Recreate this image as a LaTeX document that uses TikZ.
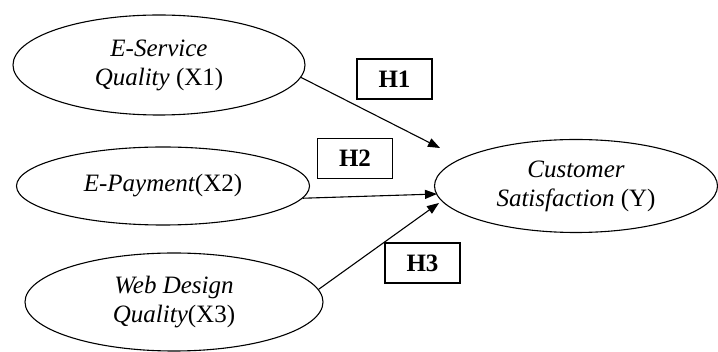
\documentclass[tikz,border=0pt]{standalone}
\usepackage{fontspec}
\setmainfont{Liberation Serif}
\usetikzlibrary{shapes.geometric,arrows.meta}
\begin{document}
\begin{tikzpicture}[x=1pt,y=-1pt,
  var/.style={draw,ellipse,line width=1.1pt,inner sep=0pt,align=center,
    font=\fontsize{25}{29}\selectfont},
  hyp/.style={draw,line width=1.1pt,minimum width=75pt,minimum height=40pt,
    inner sep=0pt,font=\fontsize{25}{28}\selectfont\bfseries},
  link/.style={line width=1.1pt,-{Triangle[length=12pt,width=9pt]}}]
\useasboundingbox (0,0) rectangle (718,352);
\node[var,minimum width=292pt,minimum height=100pt] (x1) at (159,65)
  {\itshape E-Service\\\itshape Quality \upshape(X1)};
\node[var,minimum width=293pt,minimum height=78pt] (x2) at (163,186)
  {\itshape E-Payment\upshape(X2)};
\node[var,minimum width=298pt,minimum height=98pt] (x3) at (174,302)
  {\itshape Web Design\\\itshape Quality\upshape(X3)};
\node[var,minimum width=283pt,minimum height=93pt] (y) at (576,186)
  {\itshape Customer\\\itshape Satisfaction \upshape(Y)};
\node[hyp] (h1) at (394.5,79) {H1};
\node[hyp] (h2) at (355,158.5) {H2};
\node[hyp] (h3) at (422.5,263) {H3};
\coordinate (t1) at (440,148);
\coordinate (t2) at (437,194);
\coordinate (t3) at (439,203);
\draw[link] (x1.-5) -- (t1);
\draw[link] (x2.-5) -- (t2);
\draw[link] (x3.5) -- (t3);
\end{tikzpicture}
\end{document}
